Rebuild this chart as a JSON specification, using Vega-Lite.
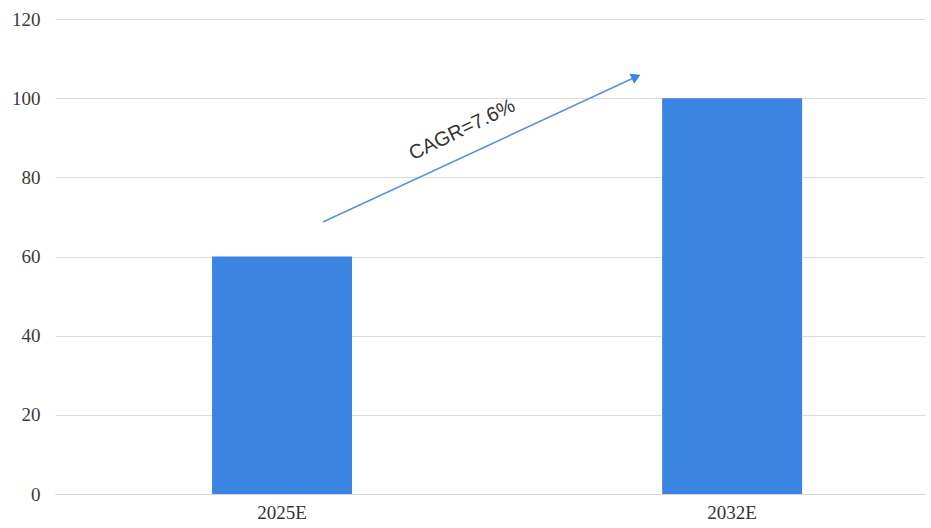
{
  "$schema": "https://vega.github.io/schema/vega-lite/v6.json",
  "width": 870,
  "height": 475,
  "autosize": {"type": "none"},
  "padding": {"left": 55, "top": 19, "right": 6, "bottom": 34},
  "background": "white",
  "config": {"view": {"stroke": null}},
  "datasets": {
    "bars": [
      {"year": "2025E", "value": 60},
      {"year": "2032E", "value": 100}
    ],
    "arrow": [
      {"x": 0.308, "y": 68.7, "x2": 0.668, "y2": 105.4}
    ],
    "head": [
      {"x": 0.668, "y": 105.4}
    ],
    "label": [
      {"x": 0.468, "y": 92.0, "text": "CAGR=7.6%"}
    ]
  },
  "layer": [
    {
      "data": {"name": "bars"},
      "mark": {"type": "bar", "color": "#3c84e2"},
      "encoding": {
        "x": {
          "field": "year", "type": "nominal", "sort": null,
          "scale": {"paddingInner": 0.689, "paddingOuter": 0.311, "align": 0.561},
          "axis": {
            "title": null, "labelAngle": 0, "ticks": false,
            "domain": true, "domainColor": "#d9d9d9", "domainWidth": 1,
            "labelFont": "Liberation Serif", "labelFontSize": 19, "labelColor": "#333333",
            "labelPadding": 9
          }
        },
        "y": {
          "field": "value", "type": "quantitative",
          "scale": {"domain": [0, 120], "nice": false},
          "axis": {
            "title": null, "values": [0, 20, 40, 60, 80, 100, 120],
            "ticks": false, "domain": false,
            "grid": true, "gridColor": "#dcdcdc", "gridWidth": 1,
            "labelFont": "Liberation Serif", "labelFontSize": 19, "labelColor": "#3a3a3a",
            "labelPadding": 15
          }
        }
      }
    },
    {
      "data": {"name": "arrow"},
      "mark": {"type": "rule", "color": "#5793df", "strokeWidth": 1.6},
      "encoding": {
        "x": {"field": "x", "type": "quantitative", "scale": {"domain": [0, 1]}, "axis": null},
        "x2": {"field": "x2"},
        "y": {"field": "y", "type": "quantitative"},
        "y2": {"field": "y2"}
      }
    },
    {
      "data": {"name": "head"},
      "mark": {"type": "point", "shape": "triangle-up", "filled": true, "color": "#3c84e2", "size": 120, "angle": 65, "opacity": 1},
      "encoding": {
        "x": {"field": "x", "type": "quantitative", "scale": {"domain": [0, 1]}, "axis": null},
        "y": {"field": "y", "type": "quantitative"}
      }
    },
    {
      "data": {"name": "label"},
      "mark": {"type": "text", "font": "Liberation Sans", "fontSize": 20, "color": "#333333", "angle": -26, "align": "center", "baseline": "middle"},
      "encoding": {
        "x": {"field": "x", "type": "quantitative", "scale": {"domain": [0, 1]}, "axis": null},
        "y": {"field": "y", "type": "quantitative"},
        "text": {"field": "text"}
      }
    }
  ],
  "resolve": {"scale": {"x": "independent"}, "axis": {"x": "independent"}}
}
